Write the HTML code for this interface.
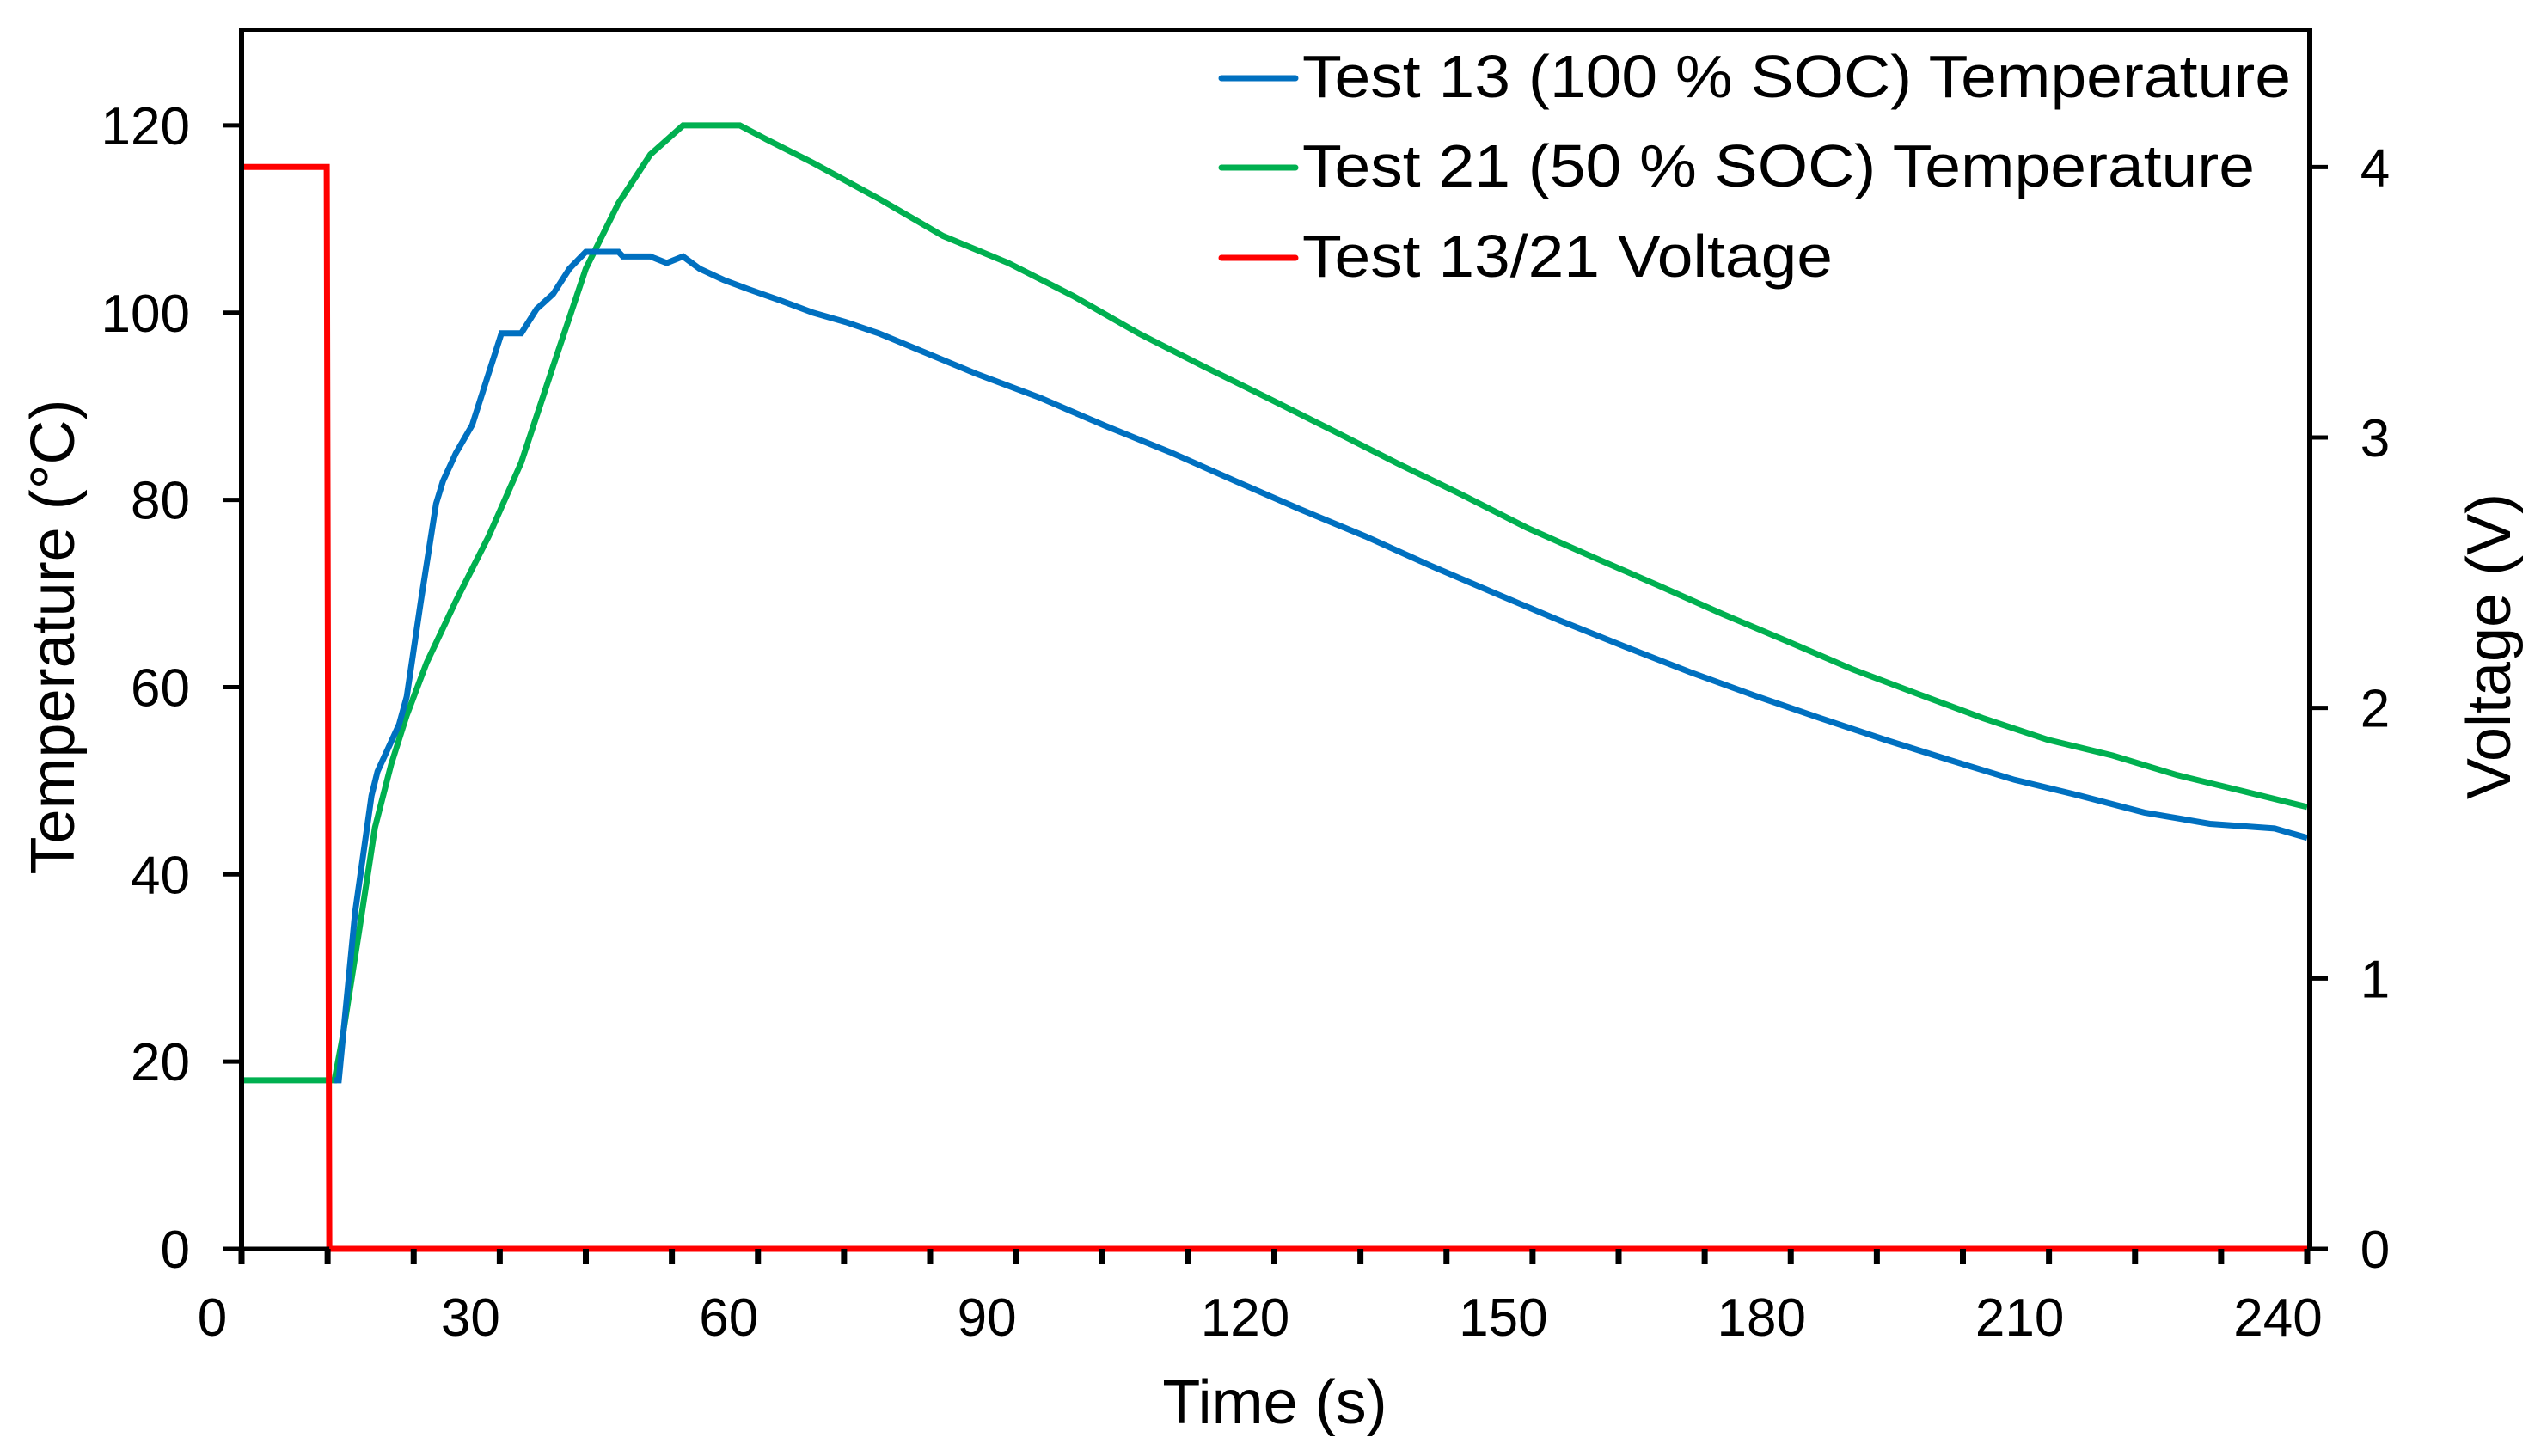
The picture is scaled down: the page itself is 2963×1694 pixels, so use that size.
<!DOCTYPE html>
<html><head><meta charset="utf-8"><style>
html,body{margin:0;padding:0;background:#fff}
svg{display:block;font-family:"Liberation Sans",Arial,sans-serif}
</style></head><body>
<svg id="chart" width="2963" height="1694" viewBox="0 0 2963 1694" xmlns="http://www.w3.org/2000/svg">
<rect width="2963" height="1694" fill="#fff"/>
<g id="series"></g>
<g id="axes"></g>
<g id="legend">
  <line x1="1421" y1="91" x2="1507" y2="91" stroke="#0070c0" stroke-width="7" stroke-linecap="round"/>
  <text x="1515" y="113" font-size="70" textLength="1150" lengthAdjust="spacingAndGlyphs">Test 13 (100 % SOC) Temperature</text>
  <line x1="1421" y1="195" x2="1507" y2="195" stroke="#00b050" stroke-width="7" stroke-linecap="round"/>
  <text x="1515" y="217" font-size="70" textLength="1108" lengthAdjust="spacingAndGlyphs">Test 21 (50 % SOC) Temperature</text>
  <line x1="1421" y1="300" x2="1507" y2="300" stroke="#ff0000" stroke-width="7" stroke-linecap="round"/>
  <text x="1515" y="322" font-size="70" textLength="617" lengthAdjust="spacingAndGlyphs">Test 13/21 Voltage</text>
</g>
<text x="1483" y="1656" font-size="72" text-anchor="middle">Time (s)</text>
<text transform="translate(86,741) rotate(-90)" font-size="72" text-anchor="middle">Temperature (°C)</text>
<text transform="translate(2920,752) rotate(-90)" font-size="72" text-anchor="middle">Voltage (V)</text>
</svg>
<script>
const xTicks = [0,10,20,30,40,50,60,70,80,90,100,110,120,130,140,150,160,170,180,190,200,210,220,230,240];
const xLabels = [0,30,60,90,120,150,180,210,240];
const yLeftTicks = [0,20,40,60,80,100,120];
const yRightTicks = [0,1,2,3,4];

const blueT = [10.8,11.3,13.2,15.1,15.8,18.3,19.2,20.8,22.6,23.4,24.9,26.8,28.7,30.2,32.5,34.3,36.2,38.1,40,43.8,44.3,47.5,49.4,51.3,53.2,56,58.9,62.6,66.4,70.2,74,77.7,85.3,92.8,100.4,107.9,115.5,123,130.6,138.1,145.7,153.2,160.8,168.3,175.8,183.4,190.9,198.5,206,213.6,221.1,228.7,236.2,240];
const blueV = [18,18,36,48.4,51,56,59,69,79.6,82,85,88,93.5,97.8,97.8,100.4,102,104.7,106.5,106.5,106,106,105.3,106,104.7,103.5,102.5,101.3,100,99,97.8,96.4,93.5,90.9,87.9,85.1,82,79,76.1,73,70,67.1,64.3,61.6,59.1,56.7,54.4,52.2,50.1,48.4,46.6,45.4,44.9,43.9];

const greenT = [0,10.8,11.7,13.6,15.5,17.4,19.2,21.5,24.9,28.7,32.5,36.2,40,43.8,47.5,51.3,57.9,60.8,66.4,74,81.5,89.1,96.6,104.2,111.7,119.2,126.8,134.3,141.9,149.4,157,164.5,172.1,179.6,187.2,194.7,202.3,209.8,217.4,224.9,232.5,240];
const greenV = [18,18,22.4,33.6,45,51.8,57,62.6,69.2,76.1,84,94.3,104.7,111.7,116.9,120,120,118.6,116,112.2,108.2,105.3,101.8,97.8,94.3,90.9,87.4,83.9,80.5,77,73.9,70.9,67.8,64.9,61.9,59.3,56.7,54.4,52.7,50.6,48.9,47.2];

const voltT = [0,9.9,10.2,240];
const voltV = [4.0,4.0,0,0];

const X0=281, X1=2684, YB=1453, YT=37;
const xs = t => X0 + (t/240)*(X1-X0);
const yL = v => YB - (v/130)*(YB-YT);
const yR = v => YB - (v/4.5)*(YB-YT);
const NS='http://www.w3.org/2000/svg';
const series=document.getElementById('series');
const axes=document.getElementById('axes');
function mk(tag,attrs,parent){const e=document.createElementNS(NS,tag);for(const k in attrs)e.setAttribute(k,attrs[k]);parent.appendChild(e);return e;}

function line(ts,vs,yf,color,name){
  const pts=ts.map((t,i)=>xs(t).toFixed(1)+','+yf(vs[i]).toFixed(1)).join(' ');
  const p=mk('polyline',{points:pts,fill:'none',stroke:color,'stroke-width':7,'stroke-linejoin':'miter'},series);
  
  
}
line(greenT,greenV,yL,'#00b050','test21-temperature-line');
line(blueT,blueV,yL,'#0070c0','test13-temperature-line');
line(voltT,voltV,yR,'#ff0000','voltage-line');

const ax=mk('line',{x1:X0,y1:34,x2:X0,y2:YB+3,stroke:'#000','stroke-width':6},axes);


const ar=mk('line',{x1:2687,y1:34,x2:2687,y2:YB+3,stroke:'#000','stroke-width':6},axes);


const at=mk('line',{x1:X0-3,y1:35,x2:2690,y2:35,stroke:'#000','stroke-width':4},axes);


const ab=mk('line',{x1:X0-3,y1:YB,x2:2690,y2:YB,stroke:'#000','stroke-width':5},axes);


const rz=mk('line',{x1:xs(10.2),y1:YB,x2:xs(240),y2:YB,stroke:'#ff0000','stroke-width':6},axes);



xTicks.forEach(t=>{
  const tk=mk('line',{x1:xs(t),y1:YB,x2:xs(t),y2:YB+18,stroke:'#000','stroke-width':7},axes);
  
  
});
xLabels.forEach(t=>{
  const tx=mk('text',{x:xs(t)-34,y:1554,'font-size':62,'text-anchor':'middle'},axes);
  tx.textContent=t;
  
  
});
yLeftTicks.forEach(v=>{
  const tk=mk('line',{x1:X0-22,y1:yL(v),x2:X0,y2:yL(v),stroke:'#000','stroke-width':5},axes);
  
  
  const tx=mk('text',{x:221,y:yL(v)+22,'font-size':62,'text-anchor':'end'},axes);
  tx.textContent=v;
  
  
});
yRightTicks.forEach(v=>{
  const tk=mk('line',{x1:2687,y1:yR(v),x2:2708,y2:yR(v),stroke:'#000','stroke-width':5},axes);
  
  
  const tx=mk('text',{x:2763,y:yR(v)+22,'font-size':62,'text-anchor':'middle'},axes);
  tx.textContent=v;
  
  
});
</script>
</body></html>
